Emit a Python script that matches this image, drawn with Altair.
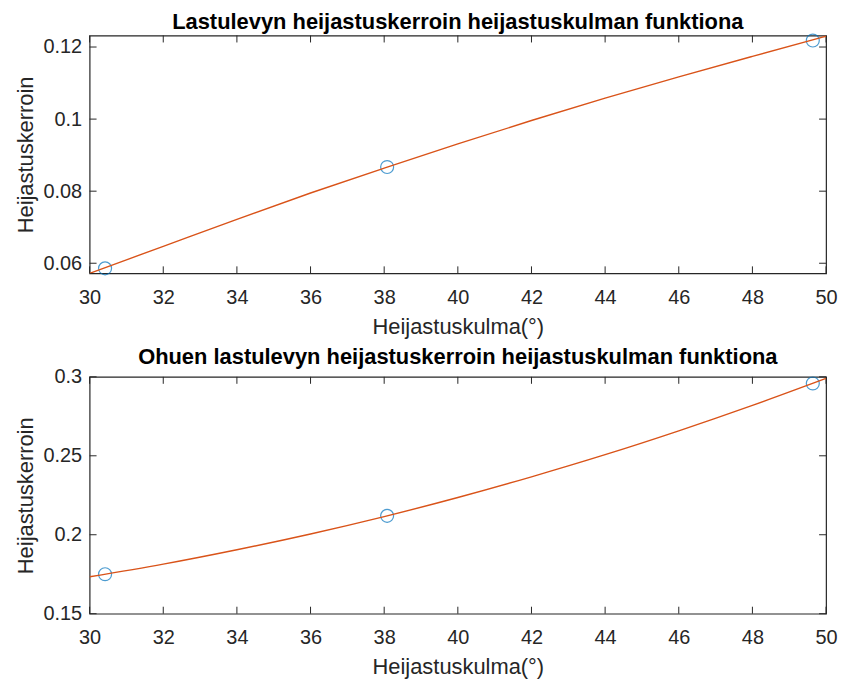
import altair as alt
import pandas as pd

# ---- data ----
meas_angle = [30.42, 38.08, 49.64]
meas_top = [0.0586, 0.0867, 0.1218]
meas_bot = [0.175, 0.212, 0.2958]

curve_angle = [30, 32, 34, 36, 38, 40, 42, 44, 46, 48, 50]
curve_top = [0.0572, 0.0647, 0.0722, 0.0795, 0.0864, 0.0931, 0.0996, 0.1058, 0.1117, 0.1174, 0.1230]
curve_bot = [0.1734, 0.1814, 0.1905, 0.2005, 0.2115, 0.2236, 0.2367, 0.2507, 0.2658, 0.2819, 0.2990]

x_ticks = [30, 32, 34, 36, 38, 40, 42, 44, 46, 48, 50]
y_ticks_top = [0.06, 0.08, 0.1, 0.12]
y_ticks_bot = [0.15, 0.2, 0.25, 0.3]

titles = ["Lastulevyn heijastuskerroin heijastuskulman funktiona",
          "Ohuen lastulevyn heijastuskerroin heijastuskulman funktiona"]
x_title = "Heijastuskulma(°)"
y_title = "Heijastuskerroin"

W = 740
FONT = "Liberation Sans"
AX = "#262626"
TL = 7


def panel(meas_y, curve_y, y_dom, y_ticks, title, H):
    xs = alt.Scale(domain=[30, 50], nice=False, zero=False)
    ys = alt.Scale(domain=y_dom, nice=False, zero=False)
    xax = alt.Axis(values=x_ticks, title=x_title, grid=False, domain=False, ticks=False,
                   tickSize=0, labelPadding=14, titlePadding=9, labelFontSize=20,
                   titleFontSize=22, titleFontWeight="normal", labelColor=AX, titleColor=AX,
                   labelFont=FONT, titleFont=FONT, labelFlush=False)
    yax = alt.Axis(values=y_ticks, title=y_title, grid=False, domain=False, ticks=False,
                   tickSize=0, labelPadding=8, titlePadding=5, labelFontSize=20,
                   titleFontSize=22, titleFontWeight="normal", labelColor=AX, titleColor=AX,
                   labelFont=FONT, titleFont=FONT, format="~g", labelFlush=False)

    cdf = pd.DataFrame({"a": curve_angle, "r": curve_y})
    mdf = pd.DataFrame({"a": meas_angle, "r": meas_y})
    xt = pd.DataFrame({"t": x_ticks})
    yt = pd.DataFrame({"t": y_ticks})

    pts = alt.Chart(mdf).mark_point(shape="circle", filled=False, size=170,
                                    color="#0072BD", strokeWidth=1.2).encode(
        x=alt.X("a:Q", scale=xs, axis=xax),
        y=alt.Y("r:Q", scale=ys, axis=yax),
    )
    line = alt.Chart(cdf).mark_line(color="#D95319", strokeWidth=1.4, interpolate="monotone",
                                    clip=True).encode(
        x=alt.X("a:Q", scale=xs), y=alt.Y("r:Q", scale=ys))

    xb = alt.Chart(xt).mark_rule(color=AX, strokeWidth=1).encode(
        x=alt.X("t:Q", scale=xs), y=alt.value(H), y2=alt.value(H - TL))
    xtp = alt.Chart(xt).mark_rule(color=AX, strokeWidth=1).encode(
        x=alt.X("t:Q", scale=xs), y=alt.value(0), y2=alt.value(TL))
    yl = alt.Chart(yt).mark_rule(color=AX, strokeWidth=1).encode(
        y=alt.Y("t:Q", scale=ys), x=alt.value(0), x2=alt.value(TL))
    yr = alt.Chart(yt).mark_rule(color=AX, strokeWidth=1).encode(
        y=alt.Y("t:Q", scale=ys), x=alt.value(W), x2=alt.value(W - TL))

    return alt.layer(pts, xb, xtp, yl, yr, line).properties(
        width=W, height=H,
        view=alt.ViewBackground(stroke=AX, strokeWidth=1.2, fill="white"),
        title=alt.TitleParams(title, fontSize=22, fontWeight="bold", color="black",
                              font=FONT, anchor="middle", offset=-2),
    )


top = panel(meas_top, curve_top, [0.0572, 0.1232], y_ticks_top, titles[0], 239)
bot = panel(meas_bot, curve_bot, [0.15, 0.30], y_ticks_bot, titles[1], 238)

chart = alt.vconcat(top, bot, spacing=7).properties(
    padding={"left": 6, "top": 0, "right": 0, "bottom": 0}
).configure_view(stroke=AX, strokeWidth=1.2).configure(background="white")

chart.save("out.html", embed_options={"renderer": "svg", "actions": False})
